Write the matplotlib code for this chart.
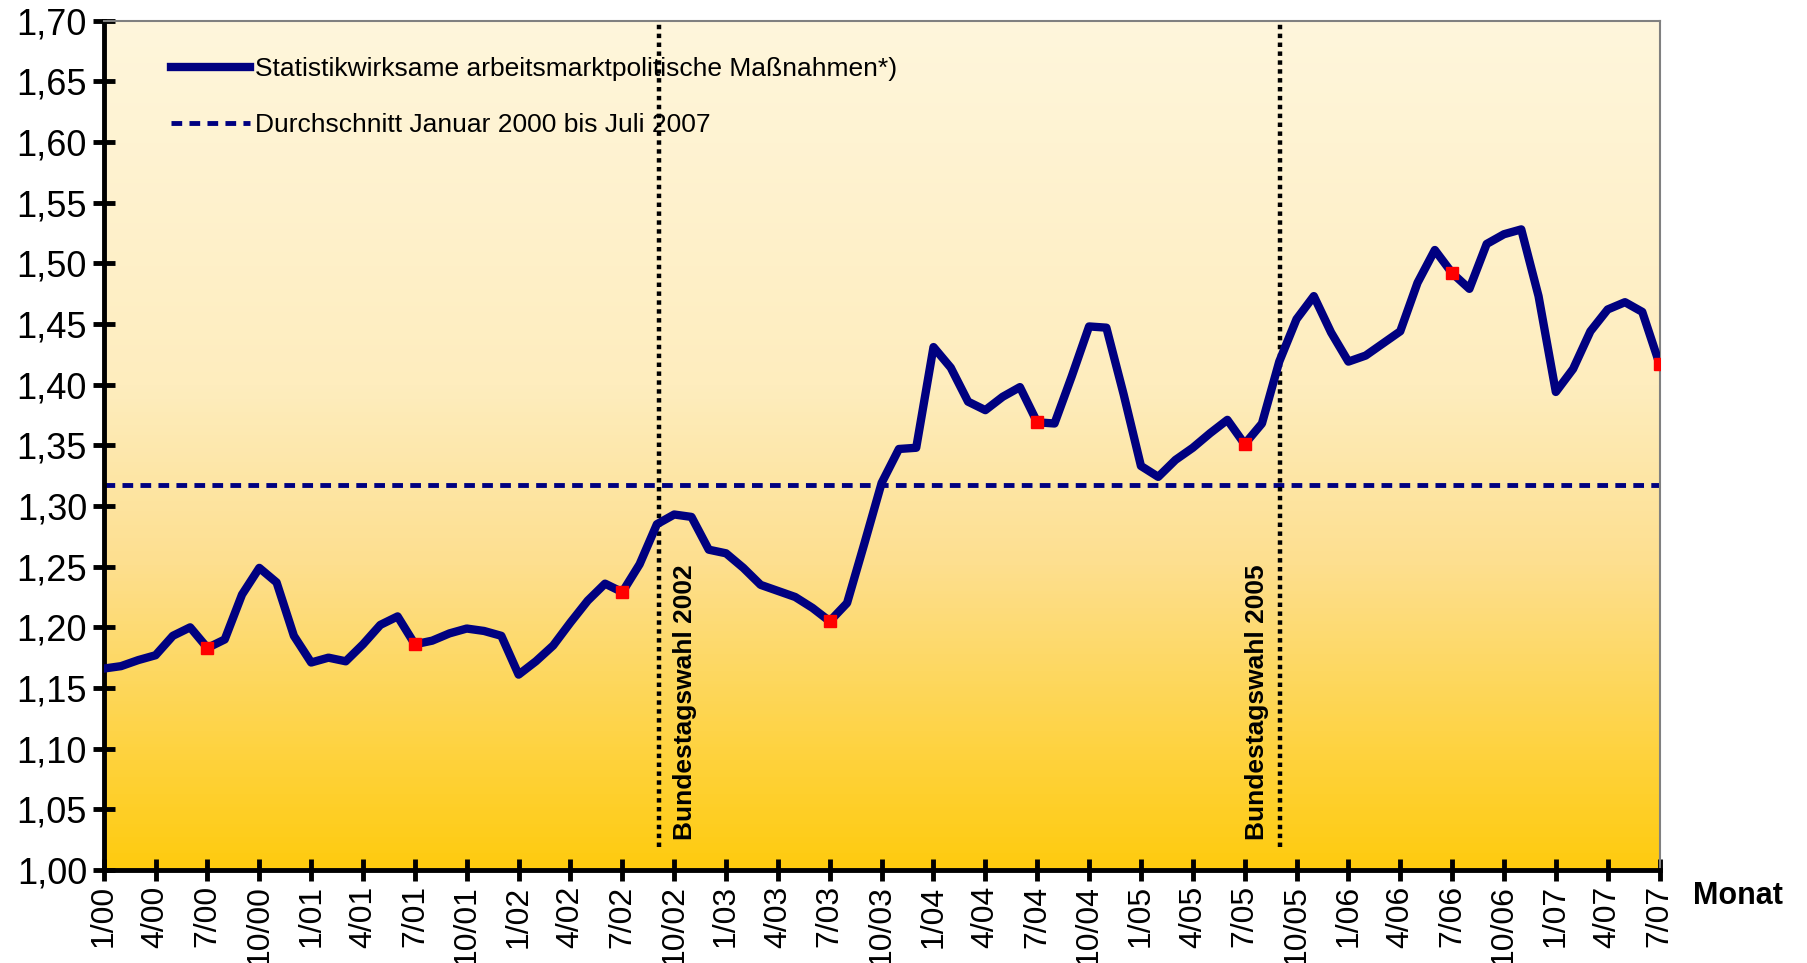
import numpy as np
import matplotlib
matplotlib.use("Agg")
import matplotlib.pyplot as plt
from matplotlib.colors import LinearSegmentedColormap

plt.rcParams['font.family'] = ['Liberation Sans', 'DejaVu Sans']

# monthly values Jan 2000 .. Jul 2007
values = [
    1.166, 1.168, 1.173, 1.177, 1.193, 1.200, 1.183, 1.190, 1.227, 1.249, 1.237, 1.193,
    1.171, 1.175, 1.172, 1.186, 1.202, 1.209, 1.186, 1.189, 1.195, 1.199, 1.197, 1.193,
    1.161, 1.172, 1.185, 1.204, 1.222, 1.236, 1.229, 1.252, 1.285, 1.293, 1.291, 1.264,
    1.261, 1.249, 1.235, 1.230, 1.225, 1.216, 1.205, 1.220, 1.269, 1.319, 1.347, 1.348,
    1.431, 1.414, 1.386, 1.379, 1.390, 1.398, 1.369, 1.368, 1.407, 1.448, 1.447, 1.392,
    1.333, 1.324, 1.338, 1.348, 1.360, 1.371, 1.351, 1.368, 1.419, 1.454, 1.473, 1.443,
    1.419, 1.424, 1.434, 1.444, 1.484, 1.511, 1.492, 1.479, 1.516, 1.524, 1.528, 1.473,
    1.394, 1.413, 1.444, 1.462, 1.468, 1.460, 1.417,
]
average = 1.317
tick_labels = []
for yy in range(0, 8):
    for mm in (1, 4, 7, 10):
        if yy == 7 and mm > 7:
            continue
        tick_labels.append("{}/{:02d}".format(mm, yy))
july_idx = [i for i in range(len(values)) if i % 12 == 6]
elections = [(32.1, 33.6, "Bundestagswahl 2002"), (68.05, 66.7, "Bundestagswahl 2005")]

line_label = "Statistikwirksame arbeitsmarktpolitische Maßnahmen*)"
avg_label = "Durchschnitt Januar 2000 bis Juli 2007"
navy = "#000080"

fig = plt.figure(figsize=(18.07, 9.63), dpi=100)
ax = fig.add_axes([0.0574, 0.0966, 0.861, 0.8819])

# gradient background
cmap = LinearSegmentedColormap.from_list(
    "bg", [(0.0, "#FFCB0E"), (0.36, "#FDDF8F"), (0.57, "#FEEDBE"), (1.0, "#FFF6DC")])
grad = np.linspace(0, 1, 256).reshape(-1, 1)
ax.imshow(grad, aspect="auto", cmap=cmap, origin="lower",
          extent=[0, 90, 1.0, 1.7], zorder=0)

x = np.arange(len(values))
ax.plot(x, values, color=navy, lw=6, solid_joinstyle="round", zorder=3, label=line_label)
ax.axhline(average, color=navy, lw=3.5, dashes=(2.2, 1.5), zorder=2, label=avg_label)
ax.plot(july_idx, [values[i] for i in july_idx], "s", color="red", ms=8, zorder=4)

for xv, xt, txt in elections:
    ax.plot([xv, xv], [1.019, 1.70], color="black", lw=3.2, ls=(0, (1, 1)), zorder=2)
    ax.text(xt, 1.025, txt, rotation=90, ha="center", va="bottom",
            fontsize=19, fontweight="bold", zorder=5)

ax.set_xlim(0, 90)
ax.set_ylim(1.0, 1.7)
ax.set_xticks(np.arange(0, 91, 3))
ax.set_xticklabels(tick_labels, rotation=90, fontsize=23)
yt = np.arange(1.0, 1.7001, 0.05)
ax.set_yticks(yt)
ax.set_yticklabels(["{:.2f}".format(v).replace(".", ",") for v in yt], fontsize=26)
ax.tick_params(direction="inout", length=16, width=3.5, pad=4)
ax.tick_params(axis="x", pad=3)

for s in ("left", "bottom"):
    ax.spines[s].set_linewidth(3.5)
    ax.spines[s].set_color("black")
for s in ("top", "right"):
    ax.spines[s].set_linewidth(1.5)
    ax.spines[s].set_color("#808080")

leg = ax.legend(loc="upper left", frameon=False, fontsize=19,
                bbox_to_anchor=(0.028, 0.985), handlelength=3.0, handletextpad=0.2,
                labelspacing=1.2)

fig.text(0.937, 0.070, "Monat", fontsize=22, fontweight="bold", va="center", ha="left")

fig.savefig("out.png", dpi=100)
